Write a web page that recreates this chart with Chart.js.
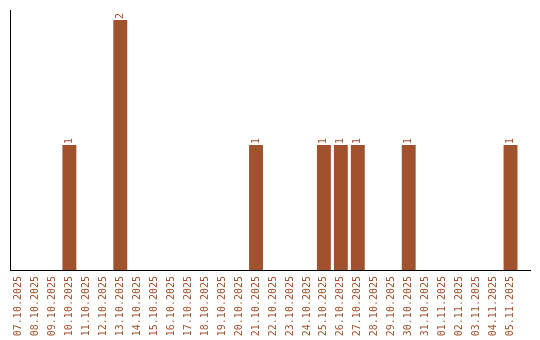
<!DOCTYPE html>
<html>
<head>
<meta charset="utf-8">
<script src="https://cdn.jsdelivr.net/npm/chart.js@4"></script>
<style>
  body { margin: 0; background: #fff; }
</style>
</head>
<body>
<canvas id="days-chart" width="540" height="340"></canvas>
<script>
// dates on the x axis
var days = ['07.10.2025', '08.10.2025', '09.10.2025', '10.10.2025', '11.10.2025',
  '12.10.2025', '13.10.2025', '14.10.2025', '15.10.2025', '16.10.2025',
  '17.10.2025', '18.10.2025', '19.10.2025', '20.10.2025', '21.10.2025',
  '22.10.2025', '23.10.2025', '24.10.2025', '25.10.2025', '26.10.2025',
  '27.10.2025', '28.10.2025', '29.10.2025', '30.10.2025', '31.10.2025',
  '01.11.2025', '02.11.2025', '03.11.2025', '04.11.2025', '05.11.2025'];
// count per day
var counts = [0, 0, 0, 1, 0, 0, 2, 0, 0, 0,
  0, 0, 0, 0, 1, 0, 0, 0, 1, 1,
  1, 0, 0, 1, 0, 0, 0, 0, 0, 1];

var brown = '#a0522d';
var monoFont = { family: "'DejaVu Sans Mono', monospace", size: 10 };

// numbers above the bars, written upwards
var valueLabels = {
  id: 'valueLabels',
  afterDatasetsDraw: function (chart) {
    var ctx = chart.ctx;
    var meta = chart.getDatasetMeta(0);
    ctx.save();
    ctx.fillStyle = brown;
    ctx.font = '10px ' + monoFont.family;
    ctx.textAlign = 'left';
    ctx.textBaseline = 'middle';
    meta.data.forEach(function (bar, i) {
      if (!counts[i]) return;
      ctx.save();
      ctx.translate(bar.x, bar.y - 1);
      ctx.rotate(-Math.PI / 2);
      ctx.fillText(String(counts[i]), 0, 0);
      ctx.restore();
    });
    ctx.restore();
  }
};

// x axis line runs a bit past the last day
var axisTail = {
  id: 'axisTail',
  afterDraw: function (chart) {
    var a = chart.chartArea;
    var ctx = chart.ctx;
    var y = Math.round(a.bottom - 0.5) + 0.5;
    ctx.save();
    ctx.strokeStyle = '#000';
    ctx.lineWidth = 1;
    ctx.beginPath();
    ctx.moveTo(a.right, y);
    ctx.lineTo(a.right + 12, y);
    ctx.stroke();
    ctx.restore();
  }
};

var ctx = document.getElementById('days-chart').getContext('2d');
var chart = new Chart(ctx, {
  type: 'bar',
  data: {
    labels: days,
    datasets: [{
      data: counts,
      backgroundColor: brown,
      borderWidth: 0,
      categoryPercentage: 1,
      barPercentage: 0.82
    }]
  },
  options: {
    responsive: false,
    animation: false,
    layout: { padding: { left: 10, top: 10, right: 21, bottom: 0 } },
    plugins: {
      legend: { display: false },
      tooltip: { enabled: false }
    },
    scales: {
      x: {
        grid: { display: false, drawTicks: false },
        border: { color: '#000', width: 1 },
        afterFit: function (scale) { scale.height = 70; },
        ticks: {
          color: brown,
          font: monoFont,
          autoSkip: false,
          minRotation: 90,
          maxRotation: 90,
          padding: 6
        }
      },
      y: {
        min: 0,
        max: Math.max.apply(null, counts) * 1.04,
        grid: { display: false, drawTicks: false },
        border: { color: '#000', width: 1 },
        ticks: { display: false }
      }
    }
  },
  plugins: [valueLabels, axisTail]
});
</script>
</body>
</html>
